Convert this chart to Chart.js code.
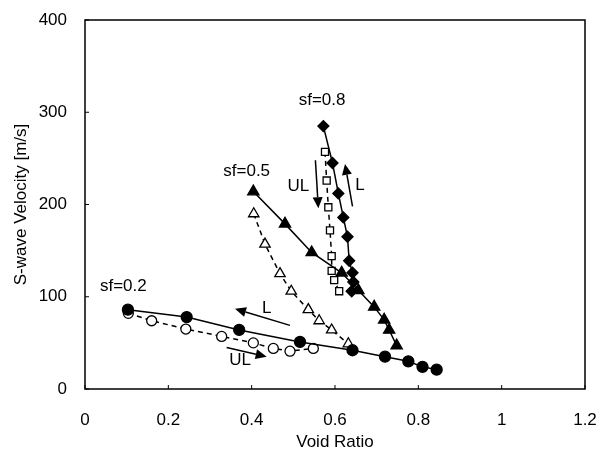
<!DOCTYPE html>
<html>
<head>
<meta charset="utf-8">
<script src="https://cdn.jsdelivr.net/npm/chart.js@4/dist/chart.umd.min.js"></script>
<style>
html, body { margin: 0; padding: 0; background: #fff; }
</style>
</head>
<body>
<canvas id="chart" width="602" height="457"></canvas>
<script>
// void ratio / S-wave velocity
var e02L = [0.103, 0.244, 0.370, 0.516, 0.642, 0.720, 0.776, 0.810, 0.844];
var v02L = [86, 78, 64, 51, 42, 35, 30, 24, 21];
var e02U = [0.104, 0.160, 0.242, 0.328, 0.404, 0.452, 0.492, 0.548];
var v02U = [82, 74, 65, 57, 50, 44, 41, 44];

var e05L = [0.404, 0.480, 0.544, 0.616, 0.656, 0.694, 0.718, 0.730, 0.748];
var v05L = [214, 179, 148, 126, 107, 89, 75, 64, 47];
var e05U = [0.405, 0.432, 0.468, 0.495, 0.536, 0.562, 0.592, 0.632];
var v05U = [190, 157, 125, 106, 86, 74, 64, 49];

var e08L = [0.572, 0.594, 0.608, 0.620, 0.630, 0.634, 0.642, 0.644, 0.640];
var v08L = [285, 245, 212, 186, 165, 139, 126, 116, 106];
var e08U = [0.576, 0.580, 0.584, 0.588, 0.592, 0.592, 0.598, 0.610];
var v08U = [257, 226, 197, 172, 144, 128, 118, 106];

var xTicks = [0, 0.2, 0.4, 0.6, 0.8, 1, 1.2];
var yTicks = [0, 100, 200, 300, 400];

// text labels and arrows (data coords)
var notes = [
    { text: 'sf=0.2', x: 0.092, y: 111 },
    { text: 'sf=0.5', x: 0.388, y: 236 },
    { text: 'sf=0.8', x: 0.569, y: 313 },
    { text: 'UL', x: 0.512, y: 220 },
    { text: 'L', x: 0.660, y: 221 },
    { text: 'L', x: 0.436, y: 88 },
    { text: 'UL', x: 0.372, y: 31 }
];
var arrows = [
    [0.553, 248, 0.560, 196],
    [0.642, 198, 0.624, 244],
    [0.492, 69, 0.360, 87],
    [0.340, 45, 0.436, 35]
];

function pts(xs, ys) {
    return xs.map(function (x, i) { return { x: x, y: ys[i] }; });
}

function series(xs, ys, shape, filled, dashed, r) {
    return {
        data: pts(xs, ys),
        showLine: true,
        borderColor: '#000',
        borderWidth: 1.5,
        borderDash: dashed ? [5, 4] : [],
        pointStyle: shape,
        pointRadius: r,
        pointBackgroundColor: filled ? '#000' : '#fff',
        pointBorderColor: '#000',
        pointBorderWidth: 1.3
    };
}

var decor = {
    id: 'decor',
    afterDatasetsDraw: function (chart) {
        var ctx = chart.ctx, a = chart.chartArea;
        var xs = chart.scales.x, ys = chart.scales.y;
        ctx.save();
        ctx.strokeStyle = '#000';
        ctx.lineWidth = 1.5;
        ctx.strokeRect(a.left, a.top, a.right - a.left, a.bottom - a.top);
        ctx.lineWidth = 1;
        xTicks.forEach(function (t) {
            var px = xs.getPixelForValue(t);
            ctx.beginPath(); ctx.moveTo(px, a.bottom); ctx.lineTo(px, a.bottom - 4); ctx.stroke();
        });
        yTicks.forEach(function (t) {
            var py = ys.getPixelForValue(t);
            ctx.beginPath(); ctx.moveTo(a.left, py); ctx.lineTo(a.left + 4, py); ctx.stroke();
        });
        ctx.fillStyle = '#000';
        ctx.font = '17px "Liberation Sans", Arial, sans-serif';
        ctx.textAlign = 'center';
        ctx.textBaseline = 'middle';
        notes.forEach(function (n) {
            ctx.fillText(n.text, xs.getPixelForValue(n.x), ys.getPixelForValue(n.y));
        });
        ctx.lineWidth = 1.5;
        arrows.forEach(function (ar) {
            var x1 = xs.getPixelForValue(ar[0]), y1 = ys.getPixelForValue(ar[1]);
            var x2 = xs.getPixelForValue(ar[2]), y2 = ys.getPixelForValue(ar[3]);
            var ang = Math.atan2(y2 - y1, x2 - x1);
            var hl = 11, hw = 5;
            var bx = x2 - hl * Math.cos(ang), by = y2 - hl * Math.sin(ang);
            ctx.beginPath(); ctx.moveTo(x1, y1); ctx.lineTo(bx, by); ctx.stroke();
            ctx.beginPath();
            ctx.moveTo(x2, y2);
            ctx.lineTo(bx + hw * Math.sin(ang), by - hw * Math.cos(ang));
            ctx.lineTo(bx - hw * Math.sin(ang), by + hw * Math.cos(ang));
            ctx.closePath(); ctx.fill();
        });
        ctx.restore();
    }
};

var font = { family: '"Liberation Sans", Arial, sans-serif', size: 17 };

new Chart(document.getElementById('chart'), {
    type: 'scatter',
    data: {
        datasets: [
            series(e02L, v02L, 'circle', true, false, 5.5),
            series(e02U, v02U, 'circle', false, true, 5),
            series(e05L, v05L, 'triangle', true, false, 6.5),
            series(e05U, v05U, 'triangle', false, true, 6),
            series(e08L, v08L, 'rectRot', true, false, 5.5),
            series(e08U, v08U, 'rect', false, true, 5)
        ]
    },
    options: {
        responsive: false,
        animation: false,
        devicePixelRatio: 1,
        layout: { padding: { top: 20, right: 17, left: 0, bottom: 0 } },
        plugins: { legend: { display: false }, tooltip: { enabled: false } },
        scales: {
            x: {
                type: 'linear', min: 0, max: 1.2,
                afterBuildTicks: function (s) { s.ticks = xTicks.map(function (v) { return { value: v }; }); },
                afterFit: function (s) { s.height = 68; s.paddingLeft = 0; s.paddingRight = 0; },
                grid: { display: false },
                border: { display: false },
                ticks: { color: '#000', font: font, padding: 13, maxRotation: 0,
                    callback: function (v) { return String(v); } },
                title: { display: true, text: 'Void Ratio', color: '#000', font: font, padding: { top: 4 } }
            },
            y: {
                type: 'linear', min: 0, max: 400,
                afterBuildTicks: function (s) { s.ticks = yTicks.map(function (v) { return { value: v }; }); },
                afterFit: function (s) { s.width = 85; s.paddingTop = 0; s.paddingBottom = 0; },
                grid: { display: false },
                border: { display: false },
                ticks: { color: '#000', font: font, padding: 10 },
                title: { display: true, text: 'S-wave Velocity [m/s]', color: '#000', font: font,
                    padding: { top: 11, bottom: 4 } }
            }
        }
    },
    plugins: [decor]
});
</script>
</body>
</html>
